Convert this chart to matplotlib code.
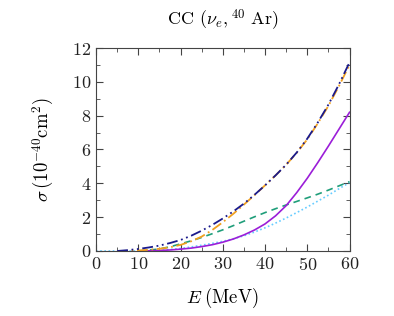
import numpy as np
from matplotlib import pyplot as plt

plt.rcParams['font.family'] = 'serif'
plt.rcParams['font.serif'] = ['cmr10', 'DejaVu Serif']
plt.rcParams['mathtext.fontset'] = 'cm'
plt.rcParams['axes.formatter.use_mathtext'] = True

# energies (MeV) and cross sections (1e-40 cm^2)
E_a = [5, 7.5, 10, 12.5, 15, 17.5, 20, 22.5, 25, 27.5, 30, 32.5, 35, 37.5,
       40, 42.5, 45, 47.5, 50, 52.5, 55, 57.5, 60]
navy = [0.0, 0.05, 0.12, 0.21, 0.32, 0.47, 0.65, 0.9, 1.2, 1.54, 1.92, 2.34,
        2.8, 3.32, 3.88, 4.47, 5.1, 5.82, 6.64, 7.6, 8.65, 9.85, 11.15]
orange = [0.0, 0.01, 0.03, 0.07, 0.13, 0.22, 0.36, 0.57, 0.85, 1.24, 1.7, 2.2,
          2.74, 3.3, 3.88, 4.47, 5.1, 5.8, 6.6, 7.55, 8.58, 9.75, 11.0]

E_b = [0, 5, 10, 12.5, 15, 17.5, 20, 22.5, 25, 27.5, 30, 32.5, 35, 37.5,
       40, 42.5, 45, 47.5, 50, 52.5, 55, 57.5, 60]
purple = [np.nan, np.nan, 0.0, 0.01, 0.03, 0.06, 0.11, 0.17, 0.26, 0.37, 0.52, 0.71,
          0.95, 1.24, 1.6, 2.08, 2.68, 3.45, 4.3, 5.23, 6.2, 7.2, 8.2]
green = [np.nan, np.nan, 0.0, 0.05, 0.12, 0.25, 0.42, 0.6, 0.8, 1.02, 1.25, 1.5,
         1.76, 2.02, 2.27, 2.5, 2.72, 2.93, 3.14, 3.36, 3.6, 3.85, 4.1]
lightblue = [0.0, 0.0, 0.0, 0.01, 0.04, 0.09, 0.15, 0.24, 0.34, 0.45, 0.57, 0.72,
             0.9, 1.12, 1.37, 1.65, 1.95, 2.27, 2.6, 2.95, 3.3, 3.68, 4.05]

fig = plt.figure(figsize=(3.94, 3.16), dpi=100)
ax = fig.add_axes([0.2437, 0.2057, 0.6434, 0.6424])

ax.plot(E_b, lightblue, color='#66ccff', lw=1.2, ls=(0, (1, 1.5)))
ax.plot(E_b, green, color='#1f9e7a', lw=1.2, ls=(0, (4, 3)))
ax.plot(E_b, purple, color='#9b1ed8', lw=1.2)
ax.plot(E_a, orange, color='#f0a020', lw=1.3, ls=(0, (6, 2, 1, 2)))
ax.plot(E_a, navy, color='#1a1a8c', lw=1.3, ls=(0, (6, 2, 1, 2, 1, 2)))

ax.set_xlim(0, 60)
ax.set_ylim(0, 12)
ax.set_xticks([0, 10, 20, 30, 40, 50, 60])
ax.set_yticks([0, 2, 4, 6, 8, 10, 12])
ax.set_xticks(np.arange(0, 61, 5), minor=True)
ax.set_yticks(np.arange(0, 13, 1), minor=True)
ax.tick_params(which='both', direction='in', top=True, right=True, labelsize=13,
               color='#444444', labelcolor='#222222')
ax.tick_params(which='major', length=5)
ax.tick_params(which='minor', length=3)
for s in ax.spines.values():
    s.set_color('#444444')
    s.set_linewidth(0.8)

ax.set_title(r'CC ($\nu_e,^{40}$ Ar)', fontsize=13, pad=16)
ax.set_xlabel(r'$E\;\mathrm{(MeV)}$', fontsize=13.5, labelpad=9)
ax.set_ylabel(r'$\sigma\,(10^{-40}\mathrm{cm}^2)$', fontsize=13.5, labelpad=11)

fig.savefig('out.png', dpi=100)
